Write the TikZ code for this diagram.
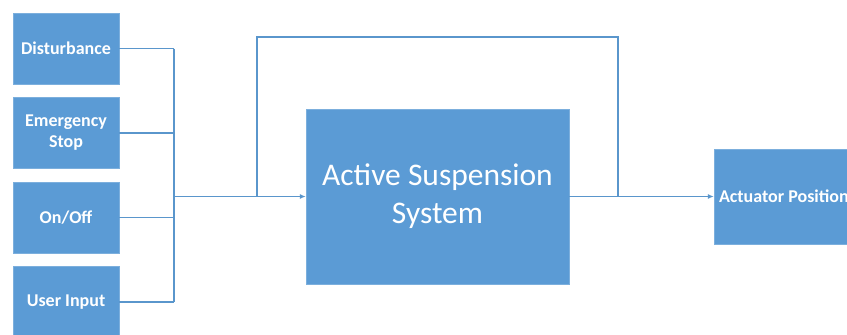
\documentclass[tikz,border=0pt]{standalone}
\usepackage{fontspec}
\setmainfont{Carlito}
\usetikzlibrary{arrows.meta}

\definecolor{boxblue}{HTML}{5B9BD5}
\definecolor{lineblue}{HTML}{5A96CC}

\tikzset{
	inbox/.style = {draw = boxblue!80!white, fill = boxblue, text = white, font = \bfseries\fontsize{18}{21}\selectfont, align = center, minimum width = 106pt, minimum height = 71pt, inner sep = 0pt},
	sysbox/.style = {draw = boxblue!80!white, fill = boxblue, text = white, font = \fontsize{31.5}{38}\selectfont, align = center, minimum width = 263pt, minimum height = 175pt, inner sep = 0pt},
	outbox/.style = {draw = boxblue!80!white, fill = boxblue, text = white, font = \bfseries\fontsize{18}{21}\selectfont, align = flush left, text width = 138pt, minimum height = 95pt, inner sep = 5pt},
	wire/.style = {draw = lineblue, line width = 1.4pt},
	feed/.style = {wire, -{Latex[length = 6pt, width = 5pt]}}
}

\begin{document}
\begin{tikzpicture}[x = 1pt, y = -1pt]

	\useasboundingbox (0, 0) rectangle (847, 335);
	\clip (0, 0) rectangle (847, 335);
	\fill [white] (0, 0) rectangle (847, 335);

	% Input blocks

	\foreach \name/\y/\txt in {dist/48.5/Disturbance, estop/133/{Emergency\\Stop}, onoff/217.5/{On/Off}, user/302/User Input}
	{
		\node [inbox] (\name) at (66, \y) {\txt};
	}

	% Plant and output

	\node [sysbox] (ass) at (437.5, 196.5) {Active Suspension\\System};
	\node [outbox] (act) at (788, 196.5) {Actuator Position};

	% Summing bus

	\coordinate (bustop) at (174, 48.5);
	\coordinate (busbot) at (174, 302);
	\coordinate (join) at (174, 196.5);

	\foreach \name in {dist, estop, onoff, user}
	{
		\draw [wire] (\name.east) -- (\name.east -| join);
	}

	\draw [wire] (bustop) -- (busbot);
	\draw [feed] (join) -- (ass.west);

	% Feedback loop

	\coordinate (fbin) at (257, 196.5);
	\coordinate (fbout) at (618, 196.5);
	\coordinate (fbtop) at (437.5, 37);

	\draw [wire] (fbout) -- (fbout |- fbtop) -- (fbin |- fbtop) -- (fbin);
	\draw [feed] (ass.east) -- (act.west);

\end{tikzpicture}
\end{document}
